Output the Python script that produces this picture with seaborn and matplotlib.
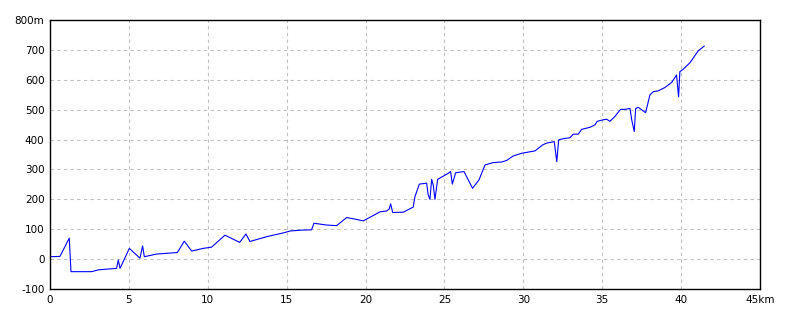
import matplotlib
matplotlib.use("Agg")
import matplotlib.pyplot as plt
import seaborn as sns
import pandas as pd

distance_km = [0.0, 0.63, 1.22, 1.33, 2.64, 3.06, 3.49, 4.22, 4.33, 4.44,
               5.03, 5.70, 5.87, 5.98, 6.76, 8.07, 8.51, 8.98, 9.72, 10.24,
               11.09, 12.02, 12.42, 12.67, 13.73, 14.89, 15.21, 15.95, 16.58, 16.73,
               17.53, 18.17, 18.80, 19.22, 19.86, 20.91, 21.34, 21.50, 21.59, 21.72,
               22.39, 23.02, 23.13, 23.41, 23.87, 23.97, 24.08, 24.19, 24.29, 24.40,
               24.57, 25.24, 25.39, 25.50, 25.71, 26.24, 26.78, 27.19, 27.57, 28.10,
               28.63, 28.94, 29.36, 29.89, 30.20, 30.74, 31.22, 31.47, 31.96, 32.12,
               32.24, 32.53, 32.95, 33.17, 33.48, 33.69, 34.22, 34.54, 34.68, 35.06,
               35.28, 35.49, 35.80, 36.16, 36.44, 36.76, 36.87, 37.03, 37.12, 37.28,
               37.75, 38.02, 38.23, 38.55, 38.97, 39.40, 39.71, 39.84, 39.92, 40.13,
               40.56, 41.09, 41.47]
elevation_m = [8, 9, 70, -42, -42, -36, -34, -31, -3, -31,
               36, 3, 44, 8, 17, 22, 60, 27, 36, 40,
               80, 56, 84, 59, 75, 89, 94, 97, 98, 120,
               114, 112, 139, 135, 128, 158, 161, 168, 185, 156,
               157, 174, 209, 251, 254, 215, 200, 267, 248, 200,
               267, 287, 293, 251, 289, 293, 237, 265, 315, 323,
               325, 330, 345, 354, 357, 362, 382, 388, 393, 326,
               399, 403, 406, 418, 418, 434, 441, 449, 461, 466,
               468, 461, 477, 501, 501, 504, 466, 427, 504, 508,
               490, 549, 560, 563, 574, 591, 616, 543, 627, 635,
               657, 697, 713]

x_ticks = [0, 5, 10, 15, 20, 25, 30, 35, 40, 45]
x_tick_labels = ["0", "5", "10", "15", "20", "25", "30", "35", "40", "45km"]
y_ticks = [-100, 0, 100, 200, 300, 400, 500, 600, 700, 800]
y_tick_labels = ["-100", "0", "100", "200", "300", "400", "500", "600", "700", "800m"]

df = pd.DataFrame({"km": distance_km, "m": elevation_m})

sns.set_style("white")
plt.rcParams["font.family"] = ["DejaVu Sans"]

fig = plt.figure(figsize=(8, 3.2), dpi=100)
ax = fig.add_axes([50 / 800, 1 - 289 / 320, 710 / 800, 269 / 320])

sns.lineplot(data=df, x="km", y="m", ax=ax, color="#0000ff", linewidth=0.8,
             estimator=None, sort=False)

ax.set_xlim(0, 45)
ax.set_ylim(-100, 800)
ax.set_xticks(x_ticks)
ax.set_xticklabels(x_tick_labels)
ax.set_yticks(y_ticks)
ax.set_yticklabels(y_tick_labels)
ax.tick_params(axis="both", length=0, labelsize=7.5, colors="black", pad=4)
ax.set_xlabel("")
ax.set_ylabel("")

for v in x_ticks[1:-1]:
    ax.axvline(v, color="#c0c0c0", linestyle=(0, (3, 3)), linewidth=0.8, zorder=0)
for v in y_ticks[1:-1]:
    ax.axhline(v, color="#c0c0c0", linestyle=(0, (3, 3)), linewidth=0.8, zorder=0)

for s in ax.spines.values():
    s.set_visible(True)
    s.set_color("black")
    s.set_linewidth(1.0)

fig.savefig("out.png", dpi=100, facecolor="white")
